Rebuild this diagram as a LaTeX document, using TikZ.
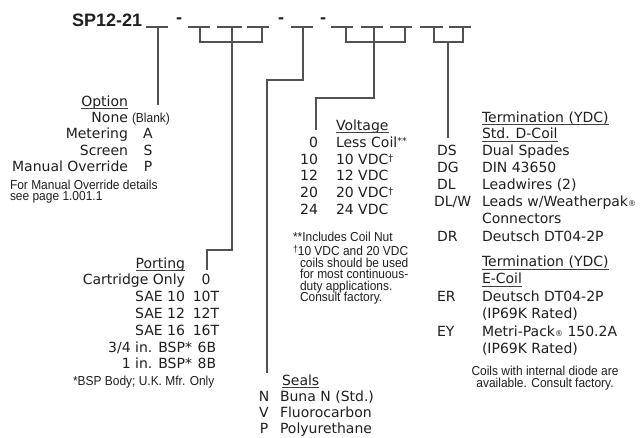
\documentclass[tikz,border=0pt]{standalone}
\usepackage{fontspec}
\setmainfont{DejaVu Sans}
\newfontfamily\hdrfont{Liberation Sans}
\newfontfamily\smallfont[FakeStretch=0.92]{Liberation Sans}
\newcommand{\supsm}[1]{\raisebox{3pt}{\fontsize{9.5}{9.5}\selectfont #1}}
\newcommand{\regsm}{{\fontsize{8}{8}\selectfont ®}}
\begin{document}
\begin{tikzpicture}[x=1pt,y=-1pt,
  txt/.style={inner sep=0pt, outer sep=0pt, text=black!88, font=\fontsize{14}{14}\selectfont},
  sm/.style={inner sep=0pt, outer sep=0pt, text=black!88, font=\smallfont\fontsize{13}{13}\selectfont},
  hdr/.style={inner sep=0pt, outer sep=0pt, text=black!88, font=\hdrfont\bfseries\fontsize{18}{18}\selectfont},
  ln/.style={draw=black!68, line width=1.2pt},
  ul/.style={draw=black!75, line width=0.8pt},
  L/.style={txt, anchor=base east},
  R/.style={txt, anchor=base west},
  C/.style={txt, anchor=base},
]
\fill[white] (0,0) rectangle (643,437);
\path[use as bounding box] (0,0) rectangle (643,437);

% ---------- header ----------
\node[hdr, anchor=base west] (title) at (72,26.5) {SP12-21};
\node[hdr] (d1) at (179,21) {-};
\node[hdr] (d2) at (281,21) {-};
\node[hdr] (d3) at (323,21) {-};

% blank segments
\coordinate (b1a) at (146,27); \coordinate (b1b) at (168,27);
\coordinate (b2a) at (188,27); \coordinate (b2b) at (210,27);
\coordinate (b3a) at (217,27); \coordinate (b3b) at (242,27);
\coordinate (b4a) at (247,27); \coordinate (b4b) at (269,27);
\coordinate (b5a) at (291,27); \coordinate (b5b) at (313,27);
\coordinate (b6a) at (331,27); \coordinate (b6b) at (353,27);
\coordinate (b7a) at (361,27); \coordinate (b7b) at (383,27);
\coordinate (b8a) at (390,27); \coordinate (b8b) at (412,27);
\coordinate (b9a) at (420,27); \coordinate (b9b) at (443,27);
\coordinate (b10a) at (449,27); \coordinate (b10b) at (471,27);
\foreach \i in {1,...,10} {\draw[ln] (b\i a) -- (b\i b);}

% ---------- Option ----------
\node[L] (opt) at (128,106) {Option};
\draw[ul] ([yshift=-2.5pt]opt.base west) -- ([yshift=-2.5pt]opt.base east);
\node[L] (none) at (128,122) {None};
\node[sm, anchor=base west] (blank) at (132,122) {(Blank)};
\node[L] (met) at (128,138.5) {Metering};
\node[C] (cA) at (148,138.5) {A};
\node[L] (scr) at (128,155) {Screen};
\node[C] (cS) at (148,155) {S};
\node[L] (man) at (128,171.5) {Manual Override};
\node[C] (cP) at (148,171.5) {P};
\node[sm, anchor=base west] (mo1) at (10,189) {For Manual Override details};
\node[sm, anchor=base west] (mo2) at (10,200.5) {see page 1.001.1};
\coordinate (optend) at (158,105);
\draw[ln] (158,27) -- (optend);

% ---------- Porting ----------
\node[L] (port) at (185,268) {Porting};
\draw[ul] ([yshift=-2.5pt]port.base west) -- ([yshift=-2.5pt]port.base east);
\node[L] (cart) at (185,284) {Cartridge Only};
\node[C] (p0) at (206,284) {0};
\node[L] (s10) at (185,301) {SAE 10};
\node[C] (p10) at (206,301) {10T};
\node[L] (s12) at (185,318) {SAE 12};
\node[C] (p12) at (206,318) {12T};
\node[L] (s16) at (185,335) {SAE 16};
\node[C] (p16) at (206,335) {16T};
\node[L] (b34) at (192,352) {3/4 in. BSP*};
\node[C] (p6) at (207,352) {6B};
\node[L] (b1) at (192,368.5) {1 in. BSP*};
\node[C] (p8) at (207,368.5) {8B};
\node[sm, anchor=base west] (bspn) at (73,385.5) {*BSP Body; U.K. Mfr. Only};
\coordinate (portend) at (207,270);
\draw[ln] (200,27) -- (200,42) -- (262,42) -- (262,27);
\draw[ln] (232,27) -- (232,250) -- (207,250) -- (portend);

% ---------- Seals ----------
\node[R] (seals) at (282,385) {Seals};
\draw[ul] ([yshift=-2.5pt]seals.base west) -- ([yshift=-2.5pt]seals.base east);
\node[C] (sN) at (264,401) {N};
\node[R] (sNt) at (280,401) {Buna N (Std.)};
\node[C] (sV) at (264,417) {V};
\node[R] (sVt) at (280,417) {Fluorocarbon};
\node[C] (sP) at (264,433) {P};
\node[R] (sPt) at (280,433) {Polyurethane};
\coordinate (sealend) at (267,373);
\draw[ln] (303,27) -- (303,80) -- (267,80) -- (sealend);

% ---------- Voltage ----------
\node[R] (volt) at (336,130) {Voltage};
\draw[ul] ([yshift=-2.5pt]volt.base west) -- ([yshift=-2.5pt]volt.base east);
\node[L] (v0) at (318,147) {0};
\node[R] (v0t) at (336,147) {Less Coil\supsm{**}};
\node[L] (v10) at (318,164) {10};
\node[R] (v10t) at (336,164) {10 VDC\supsm{†}};
\node[L] (v12) at (318,180.5) {12};
\node[R] (v12t) at (336,180.5) {12 VDC};
\node[L] (v20) at (318,197) {20};
\node[R] (v20t) at (336,197) {20 VDC\supsm{†}};
\node[L] (v24) at (318,214) {24};
\node[R] (v24t) at (336,214) {24 VDC};
\node[sm, anchor=base west] (vn1) at (293,241.5) {**Includes Coil Nut};
\node[sm, anchor=base west] (vn2) at (293,255.5) {\supsm{†}10 VDC and 20 VDC};
\node[sm, anchor=base west] (vn3) at (300,267) {coils should be used};
\node[sm, anchor=base west] (vn4) at (300,278.5) {for most continuous-};
\node[sm, anchor=base west] (vn5) at (300,290) {duty applications.};
\node[sm, anchor=base west] (vn6) at (300,301.5) {Consult factory.};
\coordinate (voltend) at (316,130);
\draw[ln] (346,27) -- (346,42) -- (405,42) -- (405,27);
\draw[ln] (374,27) -- (374,98) -- (316,98) -- (voltend);

% ---------- Termination ----------
\node[R] (term1) at (482,122) {Termination (YDC)};
\draw[ul] ([yshift=-2.5pt]term1.base west) -- ([yshift=-2.5pt]term1.base east);
\node[R] (std) at (482,138.5) {Std. D-Coil};
\draw[ul] ([yshift=-2.5pt]std.base west) -- ([yshift=-2.5pt]std.base east);
\node[R] (tDS) at (437,155.5) {DS};
\node[R] (tDSt) at (482,155.5) {Dual Spades};
\node[R] (tDG) at (437,172.5) {DG};
\node[R] (tDGt) at (482,172.5) {DIN 43650};
\node[R] (tDL) at (437,189.5) {DL};
\node[R] (tDLt) at (482,189.5) {Leadwires (2)};
\node[R] (tDLW) at (434,206.5) {DL/W};
\node[R] (tDLWt) at (482,206.5) {Leads w/Weatherpak\regsm};
\node[R] (tcon) at (482,223.5) {Connectors};
\node[R] (tDR) at (437,241.5) {DR};
\node[R] (tDRt) at (482,241.5) {Deutsch DT04-2P};
\node[R] (term2) at (482,266.5) {Termination (YDC)};
\draw[ul] ([yshift=-2.5pt]term2.base west) -- ([yshift=-2.5pt]term2.base east);
\node[R] (ecoil) at (482,283.5) {E-Coil};
\draw[ul] ([yshift=-2.5pt]ecoil.base west) -- ([yshift=-2.5pt]ecoil.base east);
\node[R] (tER) at (437,301.5) {ER};
\node[R] (tERt) at (482,301.5) {Deutsch DT04-2P};
\node[R] (tERr) at (482,318.5) {(IP69K Rated)};
\node[R] (tEY) at (437,336.5) {EY};
\node[R] (tEYt) at (482,336.5) {Metri-Pack\regsm{} 150.2A};
\node[R] (tEYr) at (482,353.5) {(IP69K Rated)};
\node[sm, anchor=base] (cn1) at (545,375.5) {Coils with internal diode are};
\node[sm, anchor=base] (cn2) at (545,387) {available. Consult factory.};
\coordinate (termend) at (448,138);
\draw[ln] (434,27) -- (434,42) -- (463,42) -- (463,27);
\draw[ln] (448,42) -- (termend);
\end{tikzpicture}
\end{document}
